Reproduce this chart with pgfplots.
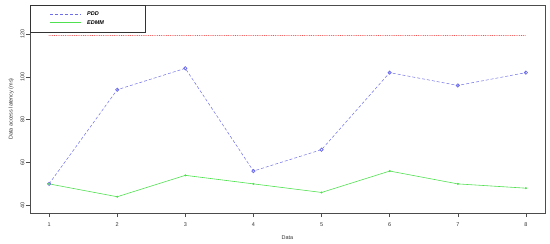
\documentclass[border=0pt]{standalone}
\usepackage{pgfplots}
\pgfplotsset{compat=1.18}
\usepackage{fontspec}
\setmainfont{Liberation Sans}
\definecolor{pddblue}{RGB}{110,110,235}
\definecolor{edmmgreen}{RGB}{80,225,80}
\definecolor{refred}{RGB}{240,80,80}
\begin{document}
\begin{tikzpicture}
\useasboundingbox (-30bp,-31bp) rectangle (520bp,213bp);
\begin{axis}[
  at={(0,0)}, anchor=south west,
  scale only axis,
  width=515bp, height=208bp,
  xmin=0.72, xmax=8.28,
  ymin=36.4, ymax=133.6,
  xtick={1,...,8},
  ytick={40,60,80,100,120},
  tick pos=left,
  tick align=outside,
  major tick length=4bp,
  axis line style={black!70, line width=0.5pt},
  tick style={black!70, line width=0.5pt},
  tick label style={font=\fontsize{5.5}{6}\selectfont, text=black!80},
  /pgf/number format/assume math mode=true,
  yticklabel style={rotate=90, anchor=south, yshift=-2bp},
  xticklabel style={yshift=-2bp},
  xlabel={Data},
  ylabel={Data access latency (ms)},
  label style={font=\fontsize{5.5}{6}\selectfont, text=black!80},
  xlabel style={yshift=-2bp},
  legend cell align=left,
  legend style={at={(0,1)}, anchor=north west, draw=black!80,
    font=\fontsize{5.5}{6}\selectfont\bfseries\itshape,
    inner xsep=0bp, inner ysep=4.5bp, row sep=-0.7bp,
    cells={anchor=west}},
  legend image code/.code={\path[draw=none] (-20bp,0bp) -- (35bp,0bp);
    \draw[#1, line width=0.9pt] (0bp,0bp) -- (31bp,0bp);},
]
\addplot[color=pddblue, densely dashed, line width=0.5pt, mark=o, mark size=1.6bp,
  mark options={solid, line width=0.8pt},
  legend image post style={draw=pddblue}] coordinates {
  (1,50) (2,94) (3,104) (4,56) (5,66) (6,102) (7,96) (8,102)
};
\addlegendentry{PDD\hspace*{44bp}}
\addplot[color=edmmgreen, solid, line width=0.6pt, mark=*, mark size=0.7bp,
  legend image post style={draw=edmmgreen}] coordinates {
  (1,50) (2,44) (3,54) (4,50) (5,46) (6,56) (7,50) (8,48)
};
\addlegendentry{EDMM}
\addplot[draw=refred, line cap=round, dash pattern=on 0.01bp off 1.8bp,
  line width=1.1pt, forget plot] coordinates {
  (1,119.5) (8,119.5)
};
\end{axis}
\end{tikzpicture}
\end{document}
